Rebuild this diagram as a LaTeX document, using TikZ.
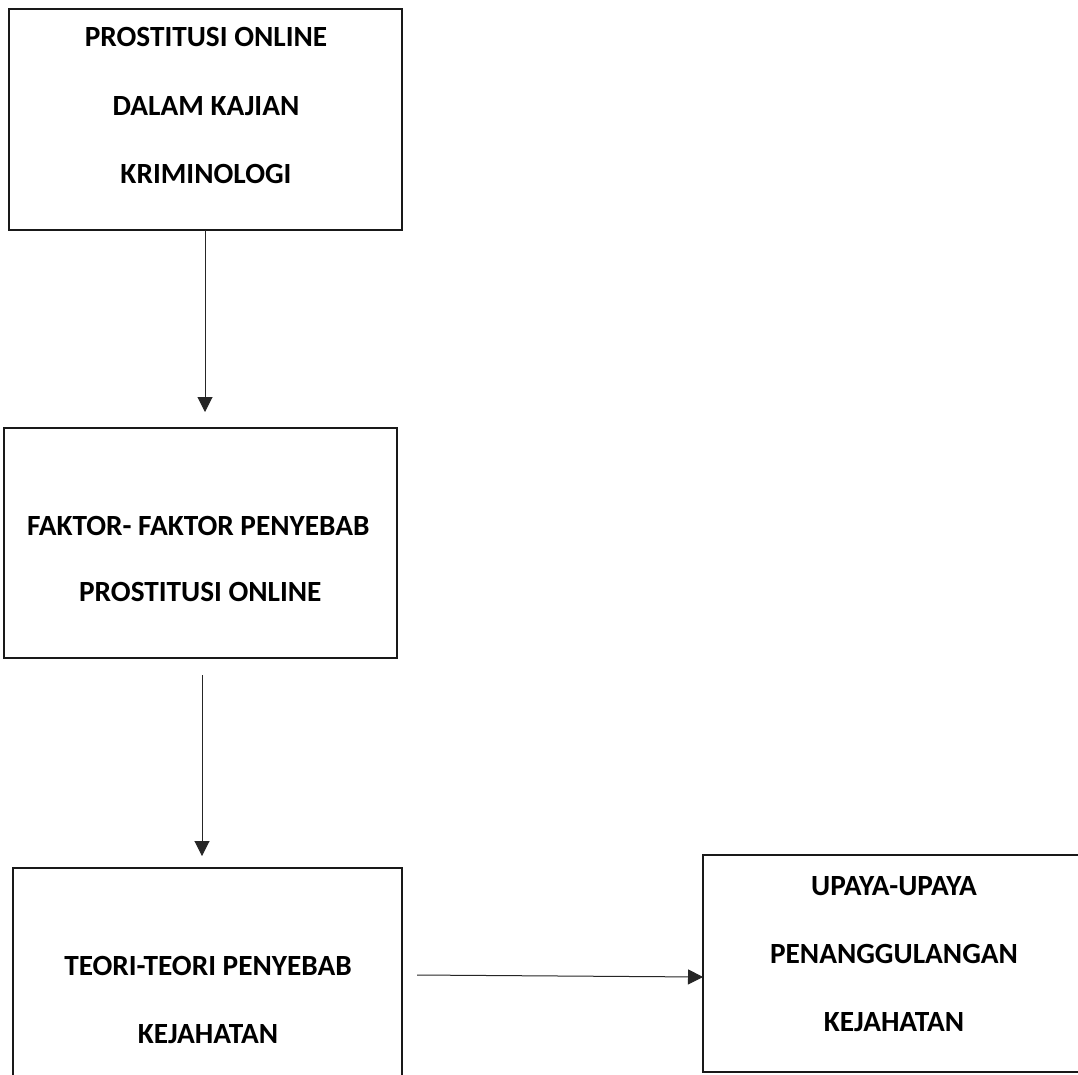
\documentclass[tikz,border=0pt]{standalone}
\usepackage{fontspec}
\setmainfont{Carlito}
\usetikzlibrary{arrows.meta}
\tikzset{
  box/.style={draw=black!90, line width=1.4pt, inner sep=0pt, outer sep=0pt, anchor=north west},
  txt/.style={anchor=base, inner sep=0pt, font=\fontsize{29.3}{34}\selectfont\bfseries},
  arr/.style={draw=black!85, line width=1pt, -{Triangle[width=15pt,length=15pt]}},
}
\begin{document}
\begin{tikzpicture}[x=1pt,y=-1pt]
\useasboundingbox[fill=white] (0,0) rectangle (1078,1074);
% boxes
\node[box, minimum width=393pt, minimum height=221pt] (b1) at (9,9) {};
\node[box, minimum width=393pt, minimum height=230pt] (b2) at (4,428) {};
\node[box, minimum width=389pt, minimum height=222pt] (b3) at (13,868) {};
\node[box, minimum width=383pt, minimum height=217pt] (b4) at (703,855) {};
% texts
\node[txt] (t1a) at (206,46.7) {PROSTITUSI ONLINE};
\node[txt] (t1b) at (206,115) {DALAM KAJIAN};
\node[txt] (t1c) at (206,183.3) {KRIMINOLOGI};
\node[txt] (t2a) at (198.3,535) {FAKTOR- FAKTOR PENYEBAB};
\node[txt] (t2b) at (200.3,601.7) {PROSTITUSI ONLINE};
\node[txt] (t3a) at (208,975) {TEORI-TEORI PENYEBAB};
\node[txt] (t3b) at (208,1043.3) {KEJAHATAN};
\node[txt] (t4a) at (894,895) {UPAYA-UPAYA};
\node[txt] (t4b) at (894,963.3) {PENANGGULANGAN};
\node[txt] (t4c) at (894,1031.7) {KEJAHATAN};
% connectors
\coordinate (a1s) at (205,230);
\coordinate (a1e) at (205,412);
\coordinate (a2s) at (202,675);
\coordinate (a2e) at (202,856);
\coordinate (a3s) at (417,975);
\coordinate (a3e) at (b4.west |- 0,977);
\draw[arr] (a1s) -- (a1e);
\draw[arr] (a2s) -- (a2e);
\draw[arr] (a3s) -- (a3e);
\end{tikzpicture}
\end{document}
